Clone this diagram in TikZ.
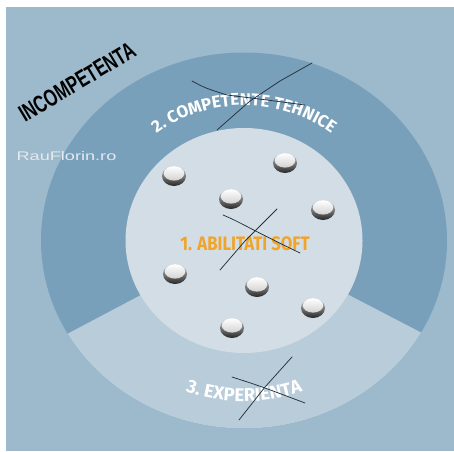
\documentclass[tikz,border=0pt]{standalone}
\usepackage{fontspec}
\usetikzlibrary{decorations.text,calc}
\newfontfamily\firafont{Fira Sans}
\newfontfamily\libsans{Liberation Sans}
\definecolor{bgblue}{HTML}{9DBACC}
\definecolor{ringblue}{HTML}{79A0BA}
\definecolor{innerblue}{HTML}{D3DDE5}
\definecolor{sectorblue}{HTML}{B8CCD9}
\definecolor{softorange}{HTML}{F0A42A}
\definecolor{scratchink}{HTML}{27313C}
\definecolor{sitewhite}{HTML}{E4E9EE}
\tikzset{
  scratch/.style={draw=scratchink, line width=0.75pt, line cap=round},
  knob/.pic={
    \shade[top color=gray!40, bottom color=black!85] (0,0) ellipse [x radius=12pt, y radius=10pt];
    \shade[top color=white, bottom color=gray!35] (0,2.6) ellipse [x radius=10.3pt, y radius=7.2pt];
  }
}
\begin{document}
\begin{tikzpicture}[x=1pt,y=1pt]
\useasboundingbox (0,0) rectangle (454,451);
\fill[white] (0,0) rectangle (454,451);
\fill[bgblue] (6,0) rectangle (454,444);
\coordinate (c) at (244,210.5);
\fill[ringblue] (c) ellipse [x radius=203pt, y radius=188pt];
\begin{scope}
  \clip (c) ellipse [x radius=203pt, y radius=188pt];
  \coordinate (sl) at (69,118);
  \coordinate (sr) at (422,118);
  \fill[sectorblue] (c) -- ($(c)!3!(sl)$) -- (244,-400) -- ($(c)!3!(sr)$) -- cycle;
\end{scope}
\fill[innerblue] (c) ellipse [x radius=118.5pt, y radius=112.5pt];

% knobs
\pic at (174,275) {knob};
\pic at (285,288) {knob};
\pic at (231,252) {knob};
\pic at (323,241) {knob};
\pic at (175,177) {knob};
\pic at (257,164) {knob};
\pic at (313,143) {knob};
\pic at (232,123) {knob};

% texts
\node[rotate=31, font=\libsans\bfseries\fontsize{24}{24}\selectfont, text=black, inner sep=0pt] (incomp) at (77,369) {\scalebox{0.69}[1]{INCOMPETENTA}};
\node[font=\libsans\fontsize{12.5}{12.5}\selectfont, text=sitewhite, inner sep=0pt] (site) at (66.5,295) {\scalebox{1.45}[1]{RauFlorin.ro}};
\node[font=\firafont\bfseries\fontsize{19.5}{19.5}\selectfont, text=softorange, inner sep=0pt] (soft) at (245,207) {\scalebox{0.86}[1]{1. ABILITATI SOFT}};

\path[decorate, decoration={text along path, text align=center, text color=white,
  text={|\firafont\bfseries\fontsize{17}{17}\selectfont|2. COMPETENTE TEHNICE}}]
  ($(c)+(160:143 and 135)$) arc[start angle=160, end angle=20, x radius=143pt, y radius=135pt];
\path[decorate, decoration={text along path, text align=center, text color=white,
  text={|\firafont\bfseries\fontsize{18.5}{18.5}\selectfont|3. EXPERIENTA}}]
  ($(c)+(220:170 and 161)$) arc[start angle=220, end angle=320, x radius=170pt, y radius=161pt];

% scratches
\draw[scratch] (192,370) .. controls (205,363) .. (227,356) -- (267,351) -- (305,346);
\draw[scratch] (217,321) -- (250,350) -- (280,370) -- (312,388);
\draw[scratch] (223,236) .. controls (240,229) and (250,222) .. (300,198);
\draw[scratch] (220,181) -- (245,210) -- (277,242);
\draw[scratch] (232,74) .. controls (260,65) .. (305,48);
\draw[scratch] (239,31) -- (265,64) -- (292,94);
\end{tikzpicture}
\end{document}
